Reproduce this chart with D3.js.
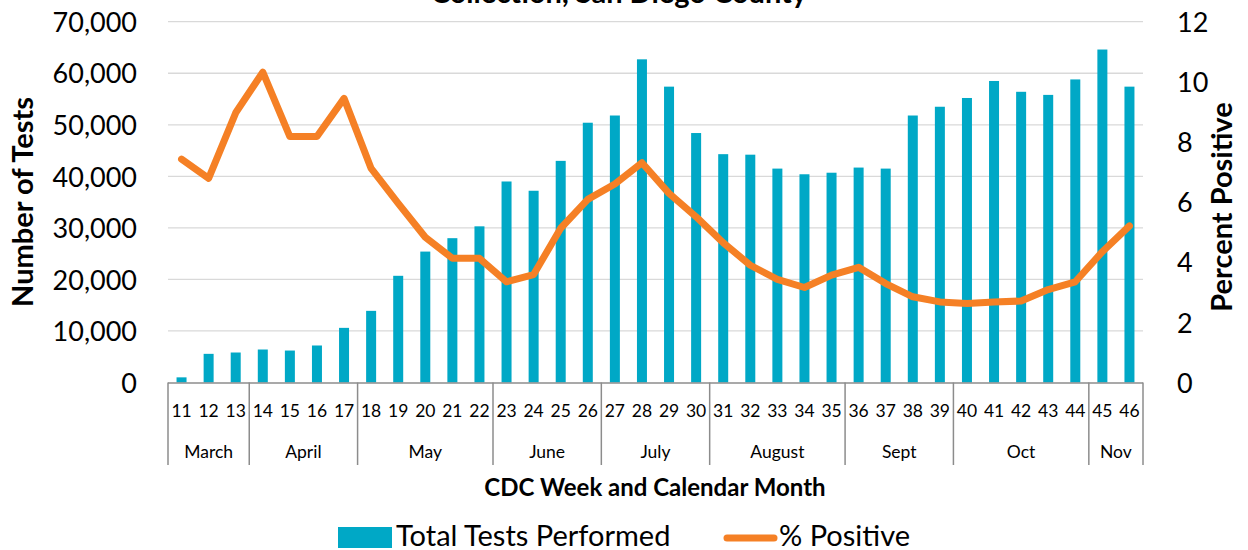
<!DOCTYPE html>
<html>
<head>
<meta charset="utf-8">
<script src="https://cdn.jsdelivr.net/npm/d3@7"></script>
<style>
  body { margin: 0; background: #fff; }
  svg { font-family: Lato, "Open Sans", sans-serif; }
</style>
</head>
<body>
<div id="chart"></div>
<script>
// weeks / months
var weeks = [11,12,13,14,15,16,17,18,19,20,21,22,23,24,25,26,27,28,29,30,31,32,33,34,35,36,37,38,39,40,41,42,43,44,45,46];
var months = ["March","April","May","June","July","August","Sept","Oct","Nov"];
var monthWeeks = [3,4,5,4,4,5,4,5,2];
// values
var totalTests = [1000,5560,5820,6400,6200,7180,10600,13900,20700,25400,28000,30300,39000,37200,43000,50400,51800,62700,57400,48400,44300,44200,41500,40400,40700,41700,41500,51800,53500,55200,58500,56400,55800,58800,64600,57400];
var pctPositive = [7.43,6.79,8.97,10.32,8.18,8.18,9.45,7.12,5.96,4.83,4.13,4.13,3.35,3.59,5.13,6.09,6.6,7.31,6.29,5.51,4.65,3.9,3.43,3.16,3.57,3.83,3.29,2.85,2.68,2.63,2.68,2.71,3.09,3.35,4.35,5.21];
var leftTicks = [0,10000,20000,30000,40000,50000,60000,70000];
var rightTicks = [0,2,4,6,8,10,12];

var width = 1248, height = 550;
var plotLeft = 168, plotRight = 1143, plotTop = 21.7, plotBottom = 382.5;
var barColor = '#00A8C6', lineColor = '#F58025';

var svg = d3.select('#chart').append('svg').attr('width', width).attr('height', height);

var x = d3.scaleBand().domain(weeks).range([plotLeft, plotRight]).paddingInner(0).paddingOuter(0);
var y = d3.scaleLinear().domain([0, 70000]).range([plotBottom, plotTop]);
var y2 = d3.scaleLinear().domain([0, 12]).range([plotBottom, plotTop]);

// gridlines
svg.append('g').selectAll('line')
  .data(leftTicks.slice(1))
  .enter().append('line')
  .attr('x1', plotLeft).attr('x2', plotRight)
  .attr('y1', function(d){ return y(d); }).attr('y2', function(d){ return y(d); })
  .attr('stroke', '#d9d9d9').attr('stroke-width', 1.3);

// bars
var bw = 10;
svg.append('g').selectAll('rect')
  .data(totalTests)
  .enter().append('rect')
  .attr('x', function(d, i){ return x(weeks[i]) + x.bandwidth()/2 - bw/2; })
  .attr('width', bw)
  .attr('y', function(d){ return y(d); })
  .attr('height', function(d){ return plotBottom - y(d); })
  .attr('fill', barColor);

// line
var line = d3.line()
  .x(function(d, i){ return x(weeks[i]) + x.bandwidth()/2; })
  .y(function(d){ return y2(d); });
svg.append('path').datum(pctPositive)
  .attr('d', line)
  .attr('fill', 'none').attr('stroke', lineColor).attr('stroke-width', 7)
  .attr('stroke-linejoin', 'round').attr('stroke-linecap', 'round');

// left axis
var gl = svg.append('g').attr('transform', 'translate(' + (plotLeft - 31) + ',0)')
  .call(d3.axisLeft(y).tickValues(leftTicks).tickSize(0).tickPadding(0).tickFormat(d3.format(',')));
gl.select('.domain').remove();
gl.selectAll('text').attr('font-size', 27).attr('font-family', 'Lato, sans-serif').attr('fill', '#000').attr('dy', '0.36em');

// right axis
var gr = svg.append('g').attr('transform', 'translate(' + (plotRight + 34) + ',0)')
  .call(d3.axisRight(y2).tickValues(rightTicks).tickSize(0).tickPadding(0));
gr.select('.domain').remove();
gr.selectAll('text').attr('font-size', 27).attr('font-family', 'Lato, sans-serif').attr('fill', '#000').attr('dy', '0.36em');

// category axis
var axisColor = '#8c8c8c';
svg.append('line').attr('x1', plotLeft).attr('x2', plotRight).attr('y1', plotBottom + 0.5).attr('y2', plotBottom + 0.5)
  .attr('stroke', axisColor).attr('stroke-width', 1.5);

var bounds = [0];
monthWeeks.forEach(function(n, i){ bounds.push(bounds[i] + n); });
svg.append('g').selectAll('line')
  .data(bounds)
  .enter().append('line')
  .attr('x1', function(d){ return d < weeks.length ? x(weeks[d]) : plotRight; })
  .attr('x2', function(d){ return d < weeks.length ? x(weeks[d]) : plotRight; })
  .attr('y1', plotBottom).attr('y2', 465)
  .attr('stroke', axisColor).attr('stroke-width', 1.5);

svg.append('g').selectAll('text')
  .data(weeks)
  .enter().append('text')
  .attr('x', function(d){ return x(d) + x.bandwidth()/2; })
  .attr('y', 417)
  .attr('text-anchor', 'middle')
  .attr('font-size', 17.5)
  .text(function(d){ return d; });

svg.append('g').selectAll('text')
  .data(months)
  .enter().append('text')
  .attr('x', function(d, i){
    var a = x(weeks[bounds[i]]);
    var b = bounds[i+1] < weeks.length ? x(weeks[bounds[i+1]]) : plotRight;
    return (a + b) / 2;
  })
  .attr('y', 458)
  .attr('text-anchor', 'middle')
  .attr('font-size', 17.5)
  .text(function(d){ return d; });

// axis titles
svg.append('text').attr('x', 655).attr('y', 496).attr('text-anchor', 'middle')
  .attr('font-size', 24).attr('font-weight', 'bold').text('CDC Week and Calendar Month');
svg.append('text').attr('transform', 'translate(33,202) rotate(-90)').attr('text-anchor', 'middle')
  .attr('font-size', 29).attr('font-weight', 'bold').text('Number of Tests');
svg.append('text').attr('transform', 'translate(1232,207) rotate(-90)').attr('text-anchor', 'middle')
  .attr('font-size', 29).attr('font-weight', 'bold').text('Percent Positive');

// title (cut off at top, as in the source image)
svg.append('text').attr('x', 619).attr('y', 3).attr('text-anchor', 'middle')
  .attr('font-size', 29).attr('font-weight', 'bold').text('Collection, San Diego County');

// legend
svg.append('rect').attr('x', 338).attr('y', 527).attr('width', 54).attr('height', 21).attr('fill', barColor);
svg.append('text').attr('x', 396).attr('y', 546).attr('font-size', 29).text('Total Tests Performed');
svg.append('line').attr('x1', 727).attr('x2', 774).attr('y1', 538).attr('y2', 538)
  .attr('stroke', lineColor).attr('stroke-width', 7).attr('stroke-linecap', 'round');
svg.append('text').attr('x', 779).attr('y', 546).attr('font-size', 29).text('% Positive');
</script>
</body>
</html>
